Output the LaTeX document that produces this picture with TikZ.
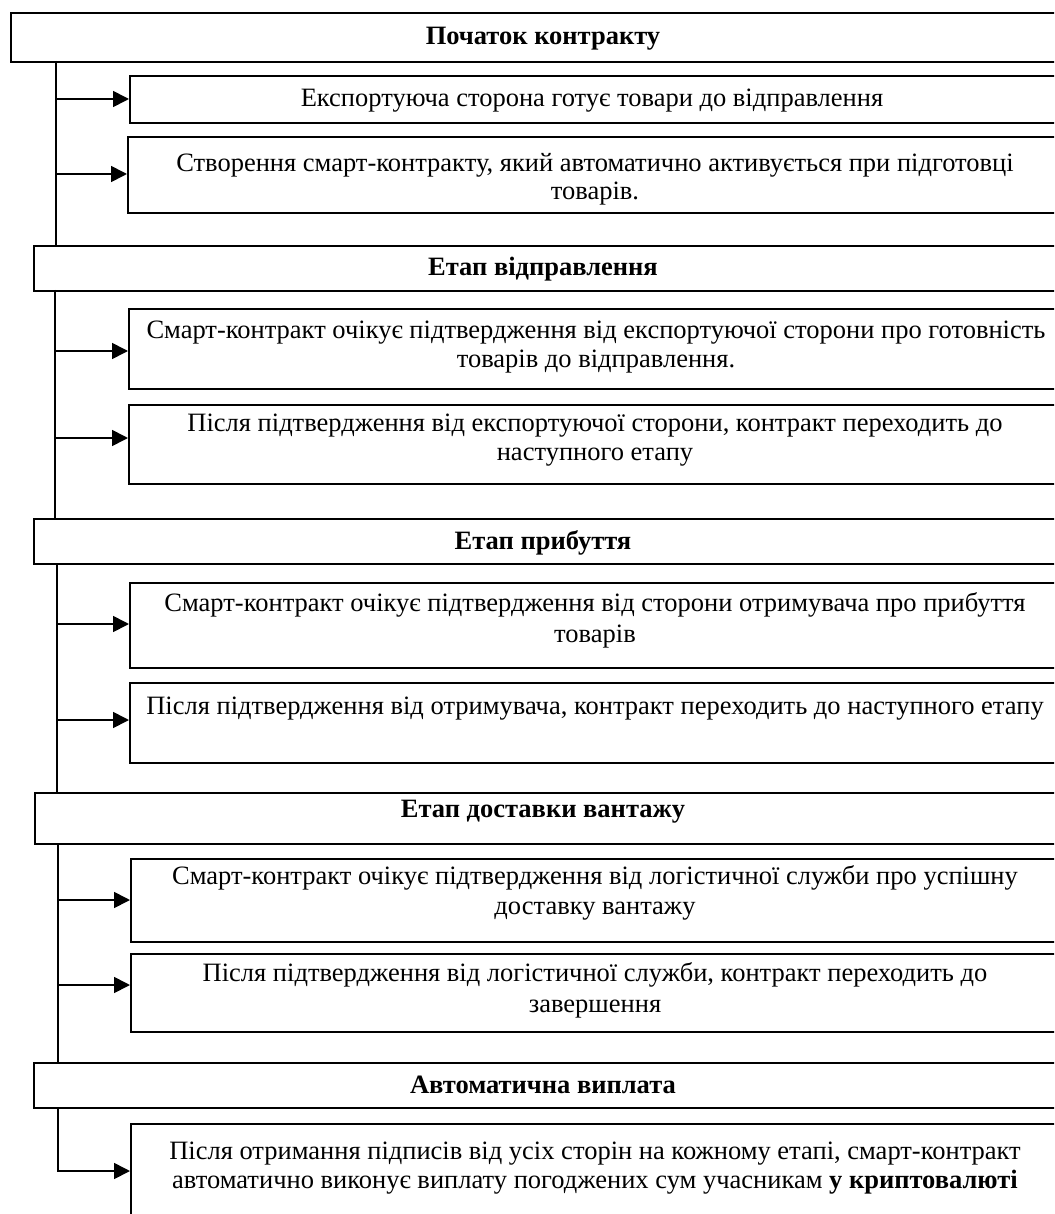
\documentclass[tikz,border=0pt]{standalone}
\usepackage{fontspec}
\setmainfont{Liberation Serif}
\usetikzlibrary{arrows.meta}
\tikzset{
  frame/.style={draw=black, line width=1.7pt, fill=white, rectangle, inner sep=0pt, anchor=north west},
  hdtxt/.style={anchor=mid, inner sep=0pt, yshift=-6pt, font=\fontsize{26.5}{30}\selectfont\bfseries},
  bxtxt/.style={anchor=mid, inner sep=0pt, yshift=-6pt, font=\fontsize{26.5}{30}\selectfont},
  trunk/.style={draw=black, line width=1.7pt},
  arr/.style={draw=black, line width=1.7pt, -{Triangle[length=16pt,width=16pt]}}
}
\begin{document}
\begin{tikzpicture}[x=1pt,y=-1pt]
\useasboundingbox (0,0) rectangle (1054,1214);
\clip (0,0) rectangle (1054,1214);
% headers
\node[frame, minimum width=1070pt, minimum height=49pt] (h1) at (10,12) {};
\node[frame, minimum width=1047pt, minimum height=45pt] (h2) at (33,245) {};
\node[frame, minimum width=1047pt, minimum height=45pt] (h3) at (33,518) {};
\node[frame, minimum width=1046pt, minimum height=51pt] (h4) at (34,792) {};
\node[frame, minimum width=1047pt, minimum height=45pt] (h5) at (33,1062) {};
% boxes
\node[frame, minimum width=933pt, minimum height=47pt] (b1a) at (129,75) {};
\node[frame, minimum width=935pt, minimum height=76pt] (b1b) at (127,136) {};
\node[frame, minimum width=934pt, minimum height=80pt] (b2a) at (128,308) {};
\node[frame, minimum width=934pt, minimum height=79pt] (b2b) at (128,404) {};
\node[frame, minimum width=933pt, minimum height=85pt] (b3a) at (129,582) {};
\node[frame, minimum width=933pt, minimum height=80pt] (b3b) at (129,682) {};
\node[frame, minimum width=932pt, minimum height=83pt] (b4a) at (130,858) {};
\node[frame, minimum width=932pt, minimum height=78pt] (b4b) at (130,953) {};
\node[frame, minimum width=932pt, minimum height=110pt] (b5) at (130,1123) {};
% header texts
\node[hdtxt] (h1t) at (543,36) {Початок контракту};
\node[hdtxt] (h2t) at (543,267) {Етап відправлення};
\node[hdtxt] (h3t) at (543,541) {Етап прибуття};
\node[hdtxt] (h4t) at (543,809) {Етап доставки вантажу};
\node[hdtxt] (h5t) at (543,1085) {Автоматична виплата};
% box texts
\node[bxtxt] (b1at) at (592,98) {Експортуюча сторона готує товари до відправлення};
\node[bxtxt] (b1bt1) at (595,163) {Створення смарт-контракту, який автоматично активується при підготовці};
\node[bxtxt] (b1bt2) at (595,191) {товарів.};
\node[bxtxt] (b2at1) at (596,330) {Смарт-контракт очікує підтвердження від експортуючої сторони про готовність};
\node[bxtxt] (b2at2) at (596,359) {товарів до відправлення.};
\node[bxtxt] (b2bt1) at (595,423) {Після підтвердження від експортуючої сторони, контракт переходить до};
\node[bxtxt] (b2bt2) at (595,452) {наступного етапу};
\node[bxtxt] (b3at1) at (595,603) {Смарт-контракт очікує підтвердження від сторони отримувача про прибуття};
\node[bxtxt] (b3at2) at (595,634) {товарів};
\node[bxtxt] (b3bt) at (595,706) {Після підтвердження від отримувача, контракт переходить до наступного етапу};
\node[bxtxt] (b4at1) at (595,876) {Смарт-контракт очікує підтвердження від логістичної служби про успішну};
\node[bxtxt] (b4at2) at (595,906) {доставку вантажу};
\node[bxtxt] (b4bt1) at (595,973) {Після підтвердження від логістичної служби, контракт переходить до};
\node[bxtxt] (b4bt2) at (595,1004) {завершення};
\node[bxtxt] (b5t1) at (595,1151) {Після отримання підписів від усіх сторін на кожному етапі, смарт-контракт};
\node[bxtxt] (b5t2) at (595,1180) {автоматично виконує виплату погоджених сум учасникам \textbf{у криптовалюті}};
% trunk coordinates
\coordinate (s1) at (56,61);   \coordinate (e1) at (56,245);
\coordinate (s2) at (55,290);  \coordinate (e2) at (55,518);
\coordinate (s3) at (57,563);  \coordinate (e3) at (57,792);
\coordinate (s4) at (58,843);  \coordinate (e4) at (58,1062);
\coordinate (s5) at (58,1107); \coordinate (e5) at (58,1171);
\draw[trunk] (s1) -- (e1);
\draw[trunk] (s2) -- (e2);
\draw[trunk] (s3) -- (e3);
\draw[trunk] (s4) -- (e4);
% arrows
\coordinate (a1a) at (56,99);
\coordinate (a1b) at (56,174);
\coordinate (a2a) at (55,351);
\coordinate (a2b) at (55,438);
\coordinate (a3a) at (57,624);
\coordinate (a3b) at (57,720);
\coordinate (a4a) at (58,900);
\coordinate (a4b) at (58,985);
\draw[arr] (a1a) -- (a1a -| b1a.west);
\draw[arr] (a1b) -- (a1b -| b1b.west);
\draw[arr] (a2a) -- (a2a -| b2a.west);
\draw[arr] (a2b) -- (a2b -| b2b.west);
\draw[arr] (a3a) -- (a3a -| b3a.west);
\draw[arr] (a3b) -- (a3b -| b3b.west);
\draw[arr] (a4a) -- (a4a -| b4a.west);
\draw[arr] (a4b) -- (a4b -| b4b.west);
\draw[arr] (s5) -- (e5) -- (e5 -| b5.west);
\end{tikzpicture}
\end{document}
